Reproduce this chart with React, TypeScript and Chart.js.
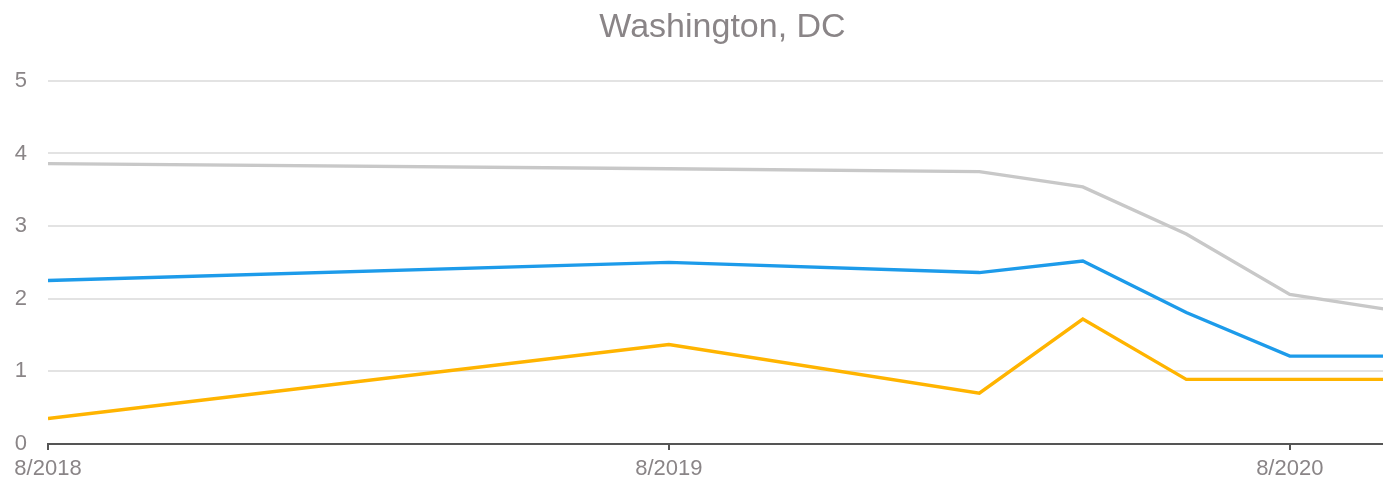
import React, { useEffect, useRef } from "react";
import { Chart, registerables } from "chart.js";

Chart.register(...registerables);

// Observation dates (year-month)
const dates = ["2018-08", "2019-08", "2020-02", "2020-04", "2020-06", "2020-08", "2020-10"];
const grayValues = [3.86, 3.79, 3.75, 3.54, 2.89, 2.06, 1.84];
const blueValues = [2.25, 2.5, 2.36, 2.52, 1.81, 1.21, 1.21];
const orangeValues = [0.35, 1.37, 0.7, 1.72, 0.89, 0.89, 0.89];

const tickDates = ["2018-08", "2019-08", "2020-08"];
const tickLabels = ["8/2018", "8/2019", "8/2020"];
const yTicks = [0, 1, 2, 3, 4, 5];
const axisEnd = "2020-11";

const title = "Washington, DC";

const BASE = "2018-08";
function monthIndex(d: string): number {
  const [y, m] = d.split("-").map(Number);
  const [by, bm] = BASE.split("-").map(Number);
  return (y - by) * 12 + (m - bm);
}

const TEXT = "#8a8587";
const FONT = "'Liberation Sans', Arial, Helvetica, sans-serif";

export default function App() {
  const ref = useRef<HTMLCanvasElement | null>(null);

  useEffect(() => {
    document.body.style.margin = "0";
    const ctx = ref.current;
    if (!ctx) return;
    const mk = (vals: number[]) => dates.map((d, i) => ({ x: monthIndex(d), y: vals[i] }));
    const tickVals = tickDates.map(monthIndex);
    const chart = new Chart(ctx, {
      type: "line",
      data: {
        datasets: [
          { label: "Gray", data: mk(grayValues), borderColor: "#c8c8c8", borderWidth: 3.4, pointRadius: 0, tension: 0, fill: false },
          { label: "Blue", data: mk(blueValues), borderColor: "#1d9bea", borderWidth: 3.4, pointRadius: 0, tension: 0, fill: false },
          { label: "Orange", data: mk(orangeValues), borderColor: "#ffb400", borderWidth: 3.4, pointRadius: 0, tension: 0, fill: false },
        ],
      },
      options: {
        animation: false,
        responsive: true,
        maintainAspectRatio: false,
        layout: { padding: { left: 0, right: 0, top: 0, bottom: 0 } },
        plugins: {
          legend: { display: false },
          tooltip: { enabled: false },
          title: {
            display: true,
            text: title,
            color: TEXT,
            font: { family: FONT, size: 34, weight: "normal" },
            padding: { top: 7, bottom: 33 },
          },
        },
        scales: {
          x: {
            type: "linear",
            min: 0,
            max: monthIndex(axisEnd),
            afterBuildTicks: (scale: any) => {
              scale.ticks = tickVals.map((v) => ({ value: v }));
            },
            afterFit: (scale: any) => {
              scale.height = 38;
            },
            ticks: {
              color: TEXT,
              font: { family: FONT, size: 22 },
              padding: 6,
              maxRotation: 0,
              autoSkip: false,
              callback: (v: any) => {
                const i = tickVals.indexOf(Number(v));
                return i >= 0 ? tickLabels[i] : "";
              },
            },
            grid: { drawOnChartArea: false, drawTicks: true, tickLength: 6, color: "#555555", lineWidth: 2 },
            border: { display: true, color: "#555555", width: 2 },
          },
          y: {
            min: 0,
            max: 5,
            afterBuildTicks: (scale: any) => {
              scale.ticks = yTicks.map((v) => ({ value: v }));
            },
            afterFit: (scale: any) => {
              scale.width = 48;
            },
            ticks: {
              color: TEXT,
              font: { family: FONT, size: 22 },
              padding: 21,
            },
            grid: { color: "#e3e3e3", lineWidth: 2, drawTicks: false },
            border: { display: false },
          },
        },
      },
    });
    return () => chart.destroy();
  }, []);

  return (
    <div style={{ position: "fixed", left: 0, top: 0, width: 1383, height: 482, overflow: "hidden", background: "#fff" }}>
      <div style={{ position: "relative", width: 1445, height: 482 }}>
        <canvas ref={ref} />
      </div>
    </div>
  );
}
